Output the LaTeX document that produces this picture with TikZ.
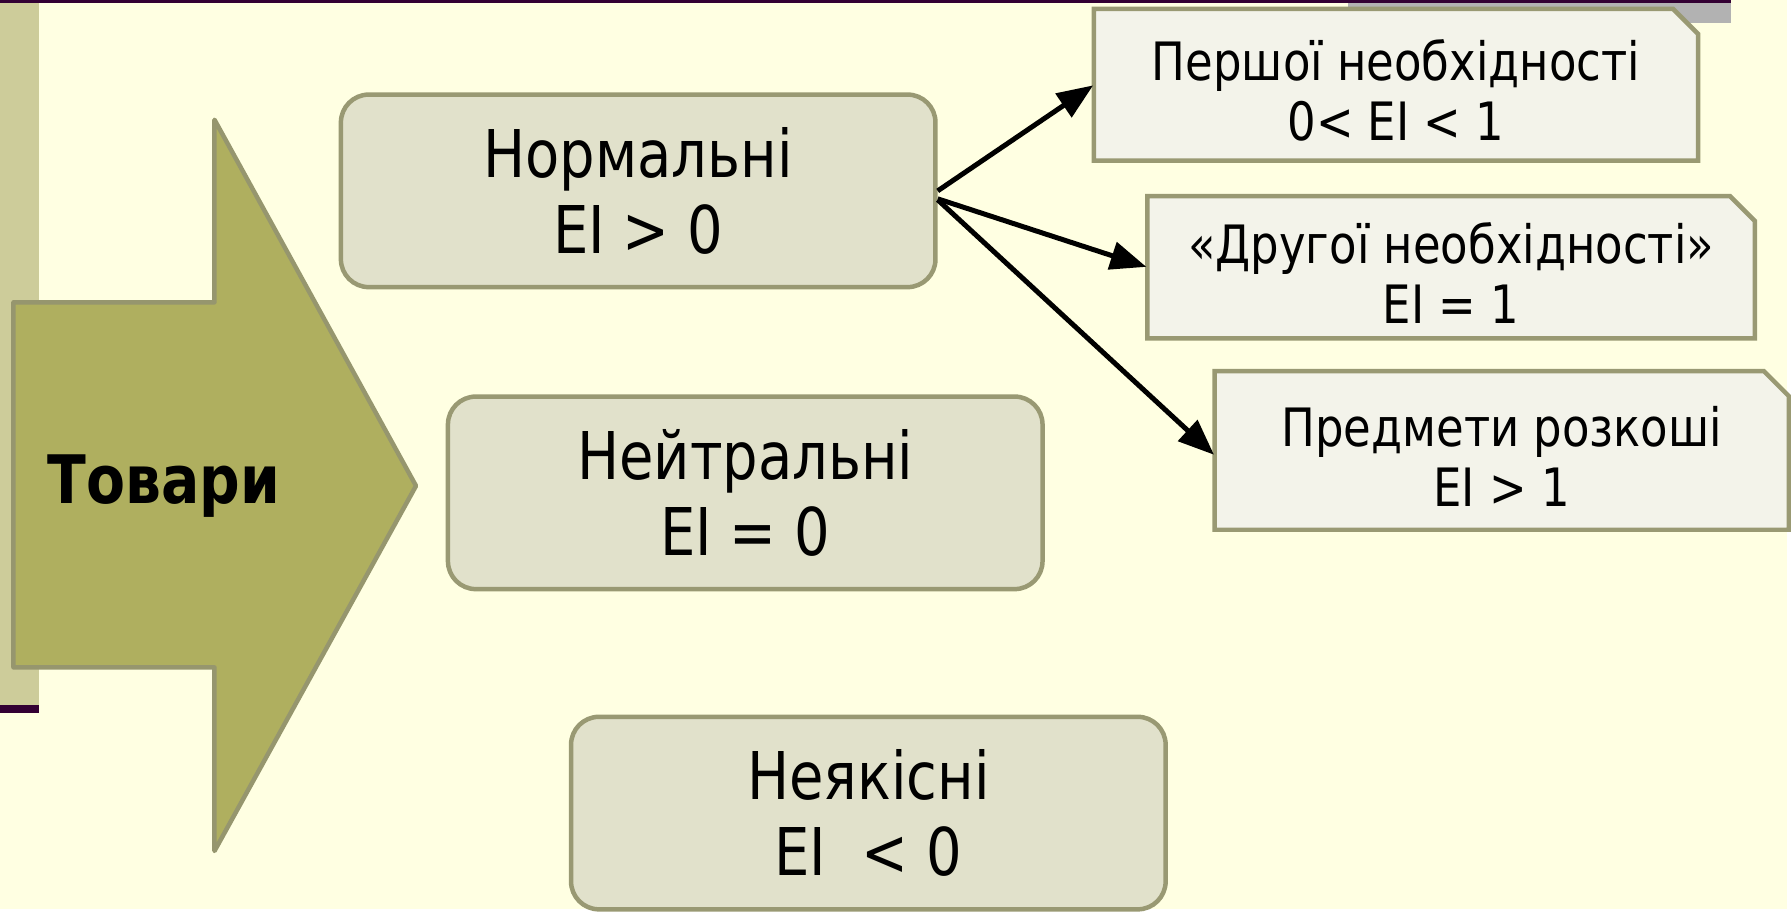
\documentclass[tikz,border=0pt]{standalone}
\usepackage{fontspec}
\setmainfont[FakeStretch=0.85]{DejaVu Sans}
\usetikzlibrary{arrows.meta}
\definecolor{bg}{HTML}{FFFFE2}
\definecolor{stripe}{HTML}{CDCC9A}
\definecolor{purp}{HTML}{330033}
\definecolor{graybar}{HTML}{B2B2B2}
\definecolor{arrfill}{HTML}{AFAF5F}
\definecolor{arrbord}{HTML}{96966E}
\definecolor{bord}{HTML}{999973}
\definecolor{rfill}{HTML}{E1E1CB}
\definecolor{cfill}{HTML}{F3F3EA}
\pgfdeclarelayer{back}
\pgfdeclarelayer{mid}
\pgfsetlayers{back,mid,main}
\begin{document}
\begin{tikzpicture}[x=1pt,y=-1pt,
  rbox/.style={draw=bord, fill=rfill, line width=4.5pt, rounded corners=28pt,
    minimum width=596pt, minimum height=193pt, inner sep=0pt, align=center,
    font=\fontsize{66}{76.5}\selectfont},
  ctext/.style={inner sep=0pt, outer sep=0pt, align=center,
    font=\fontsize{53}{60}\selectfont},
  cshape/.style={draw=bord, fill=cfill, line width=4.5pt, line join=miter},
  bigarrow/.style={draw=arrbord, fill=arrfill, line width=4.5pt, line join=round},
  conn/.style={draw=black, line width=5pt, shorten >=1pt, -{Triangle[length=36pt,width=28pt]}}
]
\begin{pgfonlayer}{back}
\useasboundingbox (0,0) rectangle (1791,911);
\fill[bg] (0,0) rectangle (1791,911);
\fill[stripe] (0,3) rectangle (39,707);
\fill[purp] (0,707) rectangle (39,715);
\fill[purp] (0,0) rectangle (1735,3);
\fill[graybar] (1351,3) rectangle (1735,23);
\end{pgfonlayer}

\draw[bigarrow] (13.5,303) -- (215,303) -- (215,120) -- (417,487) -- (215,853) -- (215,669) -- (13.5,669) -- cycle;
\node[font=\fontsize{67}{80}\selectfont\bfseries, inner sep=0pt] (T) at (164,487) {Товари};

\node[rbox] (N) at (639.7,191.3) {Нормальні\\EI > 0};
\node[rbox] (Z) at (747,494) {Нейтральні\\EI = 0};
\node[rbox] (Q) at (870.4,815) {Неякісні\\EI\ \ < 0};

\node[ctext, minimum width=605.5pt, minimum height=152pt] (A) at (1399.3,85)
  {\rule{0pt}{52pt}Першої необхідності\\0< EI < 1};
\node[ctext, minimum width=609pt, minimum height=142.5pt] (B) at (1454.5,267.8)
  {\rule{0pt}{52pt}«Другої необхідності»\\EI = 1};
\node[ctext, minimum width=575.4pt, minimum height=159pt] (C) at (1505.3,451.5)
  {\rule{0pt}{52pt}Предмети розкоші\\EI > 1};

\begin{pgfonlayer}{mid}
\foreach \n in {A,B,C}{
  \draw[cshape] (\n.north west) -- ([xshift=-25pt]\n.north east)
    -- ([yshift=-25pt]\n.north east) -- (\n.south east) -- (\n.south west) -- cycle;
}
\end{pgfonlayer}

\draw[conn] (N.east) -- (A.west);
\draw[conn] ([yshift=-8pt]N.east) -- (B.west);
\draw[conn] ([yshift=-9pt]N.east) -- ([yshift=-5pt]C.west);
\end{tikzpicture}
\end{document}
